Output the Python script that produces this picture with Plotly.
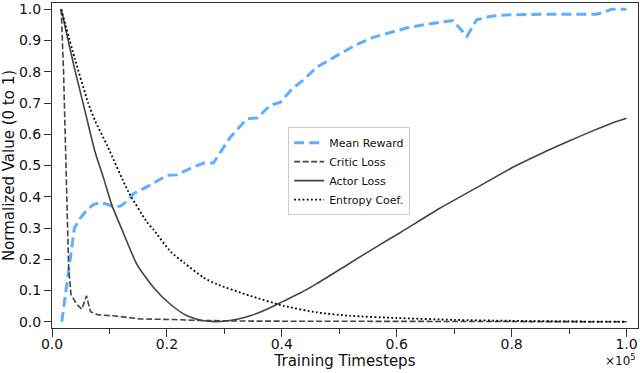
# PPO training curves, normalized to 0..1
import plotly.graph_objects as go

# x values are in units of 1e5 timesteps
reward_x = [0.017, 0.029, 0.039, 0.049, 0.061, 0.072, 0.084, 0.096, 0.107, 0.119, 0.13, 0.142,
            0.171, 0.2, 0.217, 0.246, 0.264, 0.281, 0.31, 0.339, 0.357, 0.38, 0.397, 0.42,
            0.438, 0.461, 0.484, 0.513, 0.53, 0.559, 0.588, 0.617, 0.652, 0.675, 0.698,
            0.722, 0.739, 0.762, 0.791, 0.849, 0.948, 0.959, 0.974, 1.0]
reward = [0.0, 0.172, 0.3, 0.331, 0.358, 0.375, 0.381, 0.376, 0.368, 0.37, 0.385, 0.41,
          0.437, 0.469, 0.47, 0.495, 0.508, 0.508, 0.59, 0.649, 0.652, 0.693, 0.702, 0.749,
          0.774, 0.815, 0.839, 0.871, 0.887, 0.91, 0.926, 0.94, 0.952, 0.959, 0.964,
          0.913, 0.966, 0.977, 0.982, 0.984, 0.984, 0.99, 1.0, 1.0]

critic_x = [0.016, 0.02, 0.023, 0.026, 0.029, 0.033, 0.043, 0.052, 0.06, 0.067, 0.081,
            0.107, 0.154, 0.212, 0.258, 0.35, 0.5, 0.7, 1.0]
critic = [1.0, 0.807, 0.596, 0.384, 0.172, 0.088, 0.056, 0.04, 0.083, 0.032, 0.022,
          0.019, 0.009, 0.007, 0.004, 0.002, 0.001, 0.0, 0.0]

actor_x = [0.016, 0.038, 0.058, 0.075, 0.09, 0.104, 0.122, 0.148, 0.177, 0.206, 0.235,
           0.264, 0.293, 0.322, 0.345, 0.374, 0.403, 0.432, 0.461, 0.519, 0.571, 0.606,
           0.675, 0.74, 0.803, 0.85, 0.896, 0.94, 0.971, 1.0]
actor = [1.0, 0.82, 0.67, 0.543, 0.458, 0.374, 0.294, 0.183, 0.109, 0.056, 0.019,
         0.003, 0.001, 0.008, 0.019, 0.04, 0.066, 0.092, 0.122, 0.188, 0.247, 0.285,
         0.363, 0.43, 0.495, 0.537, 0.575, 0.61, 0.633, 0.651]

entropy_x = [0.016, 0.04, 0.063, 0.075, 0.096, 0.133, 0.165, 0.177, 0.206, 0.229, 0.264,
             0.287, 0.345, 0.403, 0.461, 0.519, 0.6, 0.7, 0.8, 0.9, 1.0]
entropy = [1.0, 0.84, 0.7, 0.643, 0.564, 0.416, 0.32, 0.294, 0.225, 0.19, 0.141,
           0.12, 0.083, 0.051, 0.03, 0.019, 0.012, 0.006, 0.003, 0.001, 0.0]

x_ticks = [0.0, 0.2, 0.4, 0.6, 0.8, 1.0]
y_ticks = [0.0, 0.1, 0.2, 0.3, 0.4, 0.5, 0.6, 0.7, 0.8, 0.9, 1.0]

FONT = 'DejaVu Sans'
AX = '#333333'

fig = go.Figure()
fig.add_trace(go.Scatter(x=reward_x, y=reward, mode='lines', name='Mean Reward',
                         line=dict(color='#5eb0ff', width=3, dash='10px,5px')))
fig.add_trace(go.Scatter(x=critic_x, y=critic, mode='lines', name='Critic Loss',
                         line=dict(color='#444444', width=1.6, dash='6px,2.5px')))
fig.add_trace(go.Scatter(x=actor_x, y=actor, mode='lines', name='Actor Loss',
                         line=dict(color='#444444', width=1.6, shape='spline', smoothing=0.6)))
fig.add_trace(go.Scatter(x=entropy_x, y=entropy, mode='lines', name='Entropy Coef.',
                         line=dict(color='#000000', width=1.8, dash='1.8px,2.4px',
                                   shape='spline', smoothing=0.6)))

fig.update_layout(
	width=640, height=373,
	margin=dict(l=52, r=2, t=1, b=45),
	paper_bgcolor='white', plot_bgcolor='white',
	font=dict(family=FONT, size=14, color='#111111'),
	showlegend=True,
	legend=dict(x=0.403, y=0.618, xanchor='left', yanchor='top',
	            bgcolor='white', bordercolor='#cccccc', borderwidth=1,
	            font=dict(family=FONT, size=11)),
)
fig.update_xaxes(
	range=[0, 1.02], tickvals=x_ticks, ticktext=['0.0', '0.2', '0.4', '0.6', '0.8', '1.0'],
	ticks='outside', ticklen=8, tickcolor=AX, tickwidth=1, ticklabeloverflow='allow',
	ticklabelstandoff=-5,
	minor=dict(ticks='outside', ticklen=5, tickcolor=AX, tickvals=[0.1, 0.3, 0.5, 0.7, 0.9]),
	showline=True, mirror=True, linecolor=AX, linewidth=1, showgrid=False, zeroline=False,
	title=dict(text='Training Timesteps', font=dict(size=15), standoff=4),
)
fig.update_yaxes(
	range=[-0.02, 1.02], tickvals=y_ticks, tickformat='.1f', ticklabeloverflow='allow',
	ticks='outside', ticklen=7, tickcolor=AX, tickwidth=1,
	showline=True, mirror=True, linecolor=AX, linewidth=1, showgrid=False, zeroline=False,
	title=dict(text='Normalized Value (0 to 1)', font=dict(size=15), standoff=6),
)
fig.add_annotation(text='×10<sup>5</sup>', xref='paper', yref='paper', x=1.0, y=-0.068,
                   xanchor='right', yanchor='top', showarrow=False,
                   font=dict(family=FONT, size=12))

# drop the browser's default 8px body margin so the figure sits at the page corner
fig.write_html("out.html", config={'displayModeBar': False},
               post_script="document.body.style.margin='0';")
